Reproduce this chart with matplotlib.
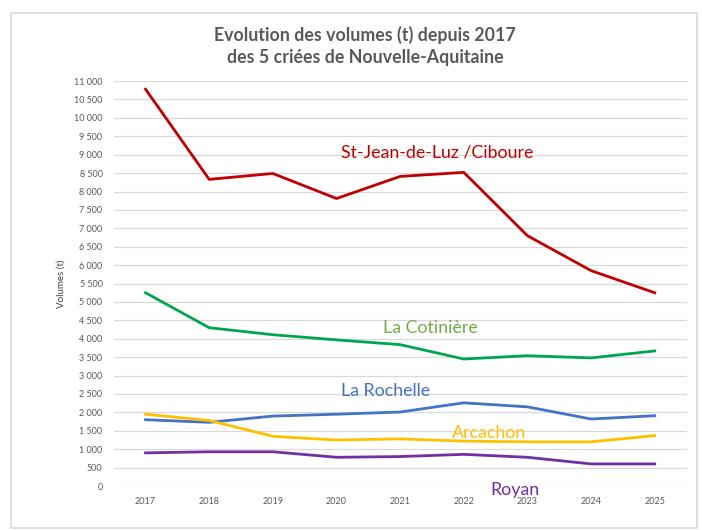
import matplotlib.pyplot as plt
from matplotlib.ticker import FuncFormatter, MultipleLocator
from matplotlib.patches import Rectangle

plt.rcParams['font.family'] = ['Lato', 'DejaVu Sans']

years = [2017, 2018, 2019, 2020, 2021, 2022, 2023, 2024, 2025]
st_jean = [10780, 8330, 8490, 7810, 8410, 8520, 6800, 5850, 5250]
cotiniere = [5250, 4300, 4110, 3970, 3840, 3450, 3540, 3480, 3670]
rochelle = [1800, 1730, 1900, 1950, 2010, 2260, 2150, 1820, 1910]
arcachon = [1950, 1780, 1350, 1250, 1280, 1220, 1200, 1200, 1370]
royan = [900, 930, 930, 780, 800, 860, 780, 600, 600]

series = [
    (st_jean, '#c00000', 'St-Jean-de-Luz /Ciboure', '#c00000', 2021.58, 9050),
    (cotiniere, '#00a550', 'La Cotinière', '#70ad47', 2021.47, 4300),
    (rochelle, '#4472c4', 'La Rochelle', '#4472c4', 2020.77, 2580),
    (arcachon, '#ffc000', 'Arcachon', '#ffc000', 2022.4, 1440),
    (royan, '#7030a0', 'Royan', '#7030a0', 2022.8, -120),
]

fig = plt.figure(figsize=(7.02, 5.30), dpi=100)
ax = fig.add_axes([0.162, 0.083, 0.816, 0.764])

for vals, col, name, tcol, tx, ty in series:
    ax.plot(years, vals, color=col, lw=2.0, solid_joinstyle='round', zorder=3)
    ax.text(tx, ty, name, color=tcol, fontsize=12.8, ha='center', va='center',
            zorder=4, clip_on=False)

ax.set_xlim(2016.5, 2025.5)
ax.set_ylim(0, 11000)
ax.yaxis.set_major_locator(MultipleLocator(500))
ax.yaxis.set_major_formatter(FuncFormatter(lambda v, p: f'{int(v):,}'.replace(',', ' ')))
ax.set_xticks(years)
ax.grid(axis='y', color='#d9d9d9', lw=0.9)
ax.set_axisbelow(True)
for s in ax.spines.values():
    s.set_visible(False)
ax.tick_params(length=0, labelsize=6.5, colors='#595959', pad=8)
ax.tick_params(axis='y', pad=8)
ax.set_ylabel('Volumes (t)', fontsize=7, color='#404040', labelpad=6)

fig.text(0.52, 0.913, 'Evolution des volumes (t) depuis 2017\ndes 5 criées de Nouvelle-Aquitaine',
         ha='center', va='center', fontsize=12.8, color='#595959', weight='bold',
         linespacing=1.35)

fig.patches.append(Rectangle((0.015, 0.003), 0.978, 0.972, transform=fig.transFigure,
                             fill=False, edgecolor='#d9d9d9', lw=1.2))

fig.savefig('out.png', dpi=100)
